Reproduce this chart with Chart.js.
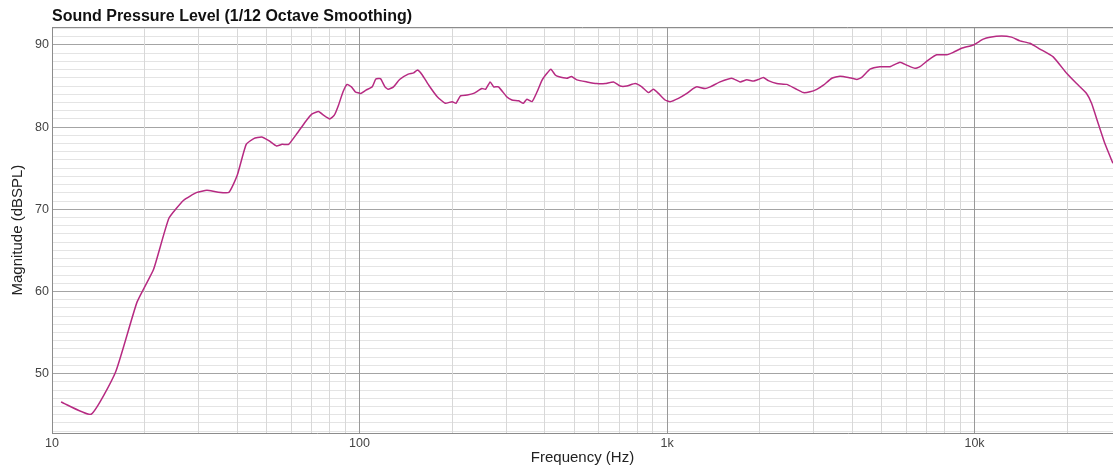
<!DOCTYPE html>
<html lang="en">
<head>
<meta charset="UTF-8" />
<title>Sound Pressure Level</title>
<style>
  html, body { margin: 0; padding: 0; background: #fff; }
  #wrap { width: 1113px; height: 467px; position: relative; }
</style>
</head>
<body>
<div id="wrap"><canvas id="splChart"></canvas></div>

<script src="https://cdn.jsdelivr.net/npm/chart.js"></script>
<script>
  // frequency response
  const freqs = [
    10.7, 13.4, 16.1, 18.9, 21.4, 24.0, 26.8, 29.6, 31.9, 34.4, 37.6, 40.0,
    42.8, 45.3, 48.0, 50.7, 53.7, 56.0, 58.8, 62.7, 66.7, 70.1, 73.6, 76.4,
    80.0, 82.8, 85.5, 88.4, 91.1, 94.1, 96.9, 101, 105, 110, 113, 117,
    121, 124, 129, 135, 144, 150, 154.5, 160, 168, 179, 190, 200,
    206, 213, 224, 235, 250, 257, 266, 273, 283, 301, 313, 329,
    341, 350, 364, 378, 392, 407, 419, 433, 443, 472, 489, 509,
    549, 591, 629, 670, 704, 740, 788, 828, 870, 903, 938, 986,
    1023, 1089, 1160, 1219, 1250, 1330, 1381, 1488, 1624, 1728, 1817, 1909,
    1982, 2057, 2135, 2275, 2451, 2608, 2776, 2918, 3068, 3224, 3433, 3652,
    3886, 4139, 4297, 4573, 4927, 5309, 5722, 6016, 6403, 6646, 7071, 7532,
    8118, 8527, 9078, 9903, 10673, 11220, 12246, 13197, 14047, 15136, 16316, 18019,
    19928, 21470, 23131, 24015, 25241, 26535, 28174
  ];
  const spl = [
    46.55, 45.05, 50.2, 58.7, 62.7, 68.9, 71.1, 72.05, 72.3, 72.1, 72.05, 74.1,
    77.9, 78.6, 78.8, 78.35, 77.7, 77.9, 77.9, 79.25, 80.65, 81.6, 81.9, 81.45,
    81.0, 81.45, 82.7, 84.3, 85.2, 84.9, 84.3, 84.1, 84.5, 84.9, 85.85, 85.9,
    84.9, 84.6, 84.9, 85.8, 86.45, 86.6, 86.95, 86.35, 85.1, 83.7, 82.9, 83.1,
    82.9, 83.8, 83.9, 84.1, 84.7, 84.6, 85.5, 84.9, 84.9, 83.7, 83.3, 83.2,
    82.9, 83.4, 83.1, 84.3, 85.7, 86.55, 87.05, 86.35, 86.15, 85.95, 86.15, 85.75,
    85.5, 85.3, 85.3, 85.5, 85.0, 85.0, 85.3, 84.9, 84.2, 84.6, 84.1, 83.3,
    83.1, 83.5, 84.1, 84.7, 84.9, 84.7, 84.9, 85.5, 85.95, 85.5, 85.75, 85.6,
    85.8, 86.05, 85.65, 85.3, 85.2, 84.7, 84.2, 84.3, 84.6, 85.1, 85.95, 86.2,
    86.05, 85.8, 86.05, 87.05, 87.35, 87.35, 87.9, 87.55, 87.15, 87.35, 88.15, 88.8,
    88.8, 89.1, 89.6, 90.0, 90.7, 90.95, 91.1, 90.95, 90.5, 90.2, 89.5, 88.55,
    86.55, 85.3, 84.1, 82.9, 80.45, 78.0, 75.6
  ];

  const decades = [10, 100, 1000, 10000];
  const decadeLabels = ['10', '100', '1k', '10k'];
  const dbMajor = [50, 60, 70, 80, 90];

  const FONT = "'Liberation Sans', Arial, Helvetica, sans-serif";

  // minor grid: 1..9 x each decade, 1 dB steps
  const xGrid = [];
  decades.forEach(d => { for (let m = 1; m <= 9; m++) if (d * m <= 28200) xGrid.push(d * m); });
  const yGrid = [];
  for (let v = 43; v <= 92; v++) yGrid.push(v);

  const frameTop = {
    id: 'frameTop',
    afterDraw(chart) {
      const { ctx, chartArea: a } = chart;
      ctx.save();
      ctx.strokeStyle = '#8c8c8c';
      ctx.lineWidth = 1;
      ctx.beginPath();
      ctx.moveTo(a.left, Math.round(a.top) + 0.5);
      ctx.lineTo(a.right, Math.round(a.top) + 0.5);
      ctx.stroke();
      ctx.restore();
    }
  };

  new Chart(document.getElementById('splChart'), {
    type: 'line',
    data: {
      datasets: [{
        data: freqs.map((f, i) => ({ x: f, y: spl[i] })),
        borderColor: 'rgb(182, 42, 130)',
        borderWidth: 1.5,
        pointRadius: 0,
        tension: 0.15,
        fill: false
      }]
    },
    options: {
      responsive: true,
      maintainAspectRatio: false,
      animation: false,
      layout: { padding: 0 },
      plugins: {
        legend: { display: false },
        tooltip: { enabled: false },
        title: {
          display: true,
          text: 'Sound Pressure Level (1/12 Octave Smoothing)',
          align: 'start',
          fullSize: false,
          color: '#111',
          font: { family: FONT, size: 16, weight: 'bold' },
          padding: { top: 7, bottom: 1 }
        }
      },
      scales: {
        x: {
          type: 'logarithmic',
          min: 10,
          max: 28200,
          afterFit(scale) { scale.height = 34; },
          afterBuildTicks(scale) { scale.ticks = xGrid.map(v => ({ value: v })); },
          grid: {
            drawTicks: false,
            z: -1,
            color: c => decades.includes(c.tick && c.tick.value) ? '#999999' : '#d8d8d8'
          },
          border: { display: true, color: '#8c8c8c' },
          ticks: {
            autoSkip: false,
            maxRotation: 0,
            padding: 3,
            color: '#444',
            font: { family: FONT, size: 12.5 },
            callback: v => {
              const i = decades.indexOf(v);
              return i >= 0 ? decadeLabels[i] : '';
            }
          },
          title: {
            display: true,
            text: 'Frequency (Hz)',
            color: '#222',
            font: { family: FONT, size: 15 },
            padding: { top: 2, bottom: 0 }
          }
        },
        y: {
          min: 42.77,
          max: 92.16,
          afterFit(scale) { scale.width = 52; },
          afterBuildTicks(scale) { scale.ticks = yGrid.map(v => ({ value: v })); },
          grid: {
            drawTicks: false,
            z: -2,
            color: c => dbMajor.includes(c.tick && c.tick.value) ? '#a4a4a4' : '#e4e4e4'
          },
          border: { display: true, color: '#8c8c8c' },
          ticks: {
            autoSkip: false,
            padding: 3,
            color: '#444',
            font: { family: FONT, size: 12.5 },
            callback: v => dbMajor.includes(v) ? String(v) : ''
          },
          title: {
            display: true,
            text: 'Magnitude (dBSPL)',
            color: '#222',
            font: { family: FONT, size: 15 },
            padding: { top: 9, bottom: 0 }
          }
        }
      }
    },
    plugins: [frameTop]
  });
</script>
</body>
</html>
